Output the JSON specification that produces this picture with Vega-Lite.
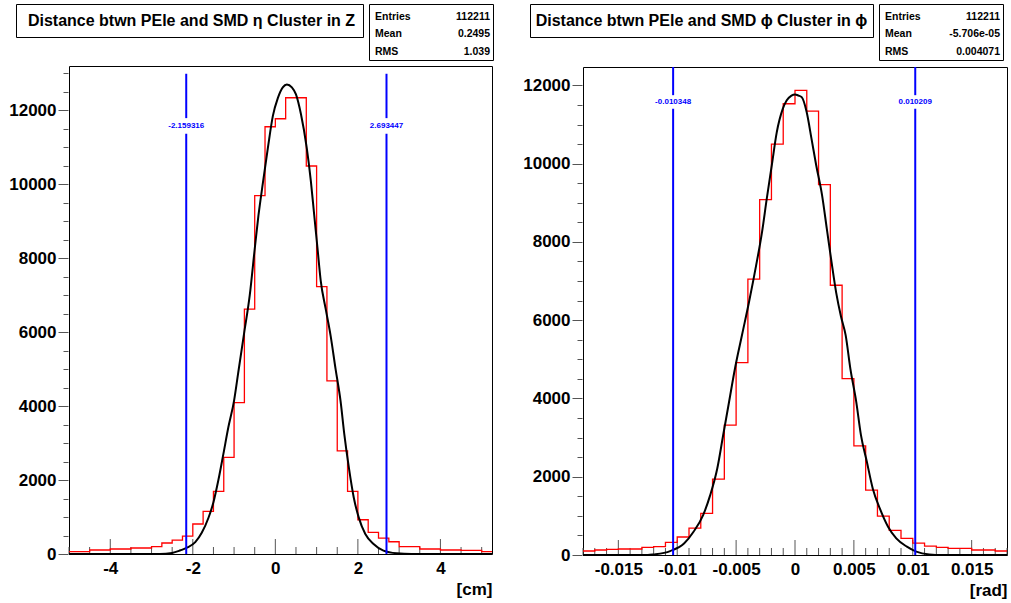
{
  "$schema": "https://vega.github.io/schema/vega-lite/v6.json",
  "background": "white",
  "padding": {"left": 7, "top": 3, "right": 0, "bottom": 0},
  "config": {
    "font": "Liberation Sans",
    "view": {"stroke": null},
    "axis": {
      "domain": false,
      "grid": false,
      "labelFont": "Liberation Sans",
      "labelFontSize": 17,
      "labelFontWeight": "bold",
      "labelColor": "black",
      "labelFlush": false,
      "labelBound": false,
      "tickColor": "#555555",
      "tickWidth": 1,
      "titleFont": "Liberation Sans",
      "titleFontSize": 17,
      "titleFontWeight": "bold",
      "titleColor": "black"
    }
  },
  "datasets": {
    "histL": [{"x":-5,"count":62},{"x":-4.75,"count":62},{"x":-4.5,"count":108},{"x":-4.25,"count":108},{"x":-4,"count":135},{"x":-3.75,"count":135},{"x":-3.5,"count":162},{"x":-3.25,"count":162},{"x":-3,"count":197},{"x":-2.75,"count":297},{"x":-2.5,"count":378},{"x":-2.25,"count":486},{"x":-2,"count":811},{"x":-1.75,"count":1151},{"x":-1.5,"count":1692},{"x":-1.25,"count":2611},{"x":-1,"count":4097},{"x":-0.75,"count":6622},{"x":-0.5,"count":9692},{"x":-0.25,"count":11557},{"x":0,"count":11773},{"x":0.25,"count":12341},{"x":0.5,"count":12341},{"x":0.75,"count":10495},{"x":1,"count":7232},{"x":1.25,"count":4684},{"x":1.5,"count":2792},{"x":1.75,"count":1692},{"x":2,"count":927},{"x":2.25,"count":584},{"x":2.5,"count":432},{"x":2.75,"count":332},{"x":3,"count":197},{"x":3.25,"count":197},{"x":3.5,"count":135},{"x":3.75,"count":135},{"x":4,"count":108},{"x":4.25,"count":108},{"x":4.5,"count":100},{"x":4.75,"count":100},{"x":5,"count":62},{"x":5.25,"count":62}],
    "fitL": [{"x":-5,"fit":0},{"x":-2.8,"fit":0},{"x":-2.5,"fit":30},{"x":-2.3,"fit":100},{"x":-2.14,"fit":170},{"x":-1.94,"fit":320},{"x":-1.78,"fit":580},{"x":-1.62,"fit":980},{"x":-1.5,"fit":1400},{"x":-1.38,"fit":2000},{"x":-1.26,"fit":2700},{"x":-1.14,"fit":3420},{"x":-1,"fit":4150},{"x":-0.9,"fit":4900},{"x":-0.76,"fit":5950},{"x":-0.62,"fit":7000},{"x":-0.5,"fit":8250},{"x":-0.41,"fit":9150},{"x":-0.3,"fit":10050},{"x":-0.18,"fit":10990},{"x":-0.06,"fit":11850},{"x":0.06,"fit":12330},{"x":0.18,"fit":12620},{"x":0.28,"fit":12700},{"x":0.4,"fit":12620},{"x":0.5,"fit":12430},{"x":0.62,"fit":11900},{"x":0.76,"fit":10990},{"x":0.86,"fit":10090},{"x":0.94,"fit":9190},{"x":1.02,"fit":8290},{"x":1.1,"fit":7390},{"x":1.22,"fit":6630},{"x":1.34,"fit":5900},{"x":1.46,"fit":5000},{"x":1.58,"fit":4140},{"x":1.67,"fit":3250},{"x":1.78,"fit":2350},{"x":1.9,"fit":1530},{"x":2.02,"fit":990},{"x":2.18,"fit":540},{"x":2.38,"fit":270},{"x":2.62,"fit":90},{"x":2.94,"fit":18},{"x":3.3,"fit":0},{"x":5.25,"fit":0}],
    "cutL": [{"x":-2.159316,"label":"-2.159316"},{"x":2.693447,"label":"2.693447"}],
    "ticksL": [{"t":-5,"kind":"minor"},{"t":-4.5,"kind":"minor"},{"t":-4,"kind":"major"},{"t":-3.5,"kind":"minor"},{"t":-3,"kind":"minor"},{"t":-2.5,"kind":"minor"},{"t":-2,"kind":"major"},{"t":-1.5,"kind":"minor"},{"t":-1,"kind":"minor"},{"t":-0.5,"kind":"minor"},{"t":0,"kind":"major"},{"t":0.5,"kind":"minor"},{"t":1,"kind":"minor"},{"t":1.5,"kind":"minor"},{"t":2,"kind":"major"},{"t":2.5,"kind":"minor"},{"t":3,"kind":"minor"},{"t":3.5,"kind":"minor"},{"t":4,"kind":"major"},{"t":4.5,"kind":"minor"},{"t":5,"kind":"minor"}],
    "histR": [{"x":-0.018,"count":102},{"x":-0.017,"count":128},{"x":-0.016,"count":145},{"x":-0.015,"count":153},{"x":-0.014,"count":153},{"x":-0.013,"count":194},{"x":-0.012,"count":212},{"x":-0.011,"count":322},{"x":-0.01,"count":460},{"x":-0.009,"count":689},{"x":-0.008,"count":1063},{"x":-0.007,"count":1940},{"x":-0.006,"count":3319},{"x":-0.005,"count":4918},{"x":-0.004,"count":7047},{"x":-0.003,"count":9080},{"x":-0.002,"count":10501},{"x":-0.001,"count":11531},{"x":0,"count":11872},{"x":0.001,"count":11344},{"x":0.002,"count":9463},{"x":0.003,"count":6893},{"x":0.004,"count":4509},{"x":0.005,"count":2791},{"x":0.006,"count":1659},{"x":0.007,"count":995},{"x":0.008,"count":629},{"x":0.009,"count":425},{"x":0.01,"count":306},{"x":0.011,"count":229},{"x":0.012,"count":194},{"x":0.013,"count":170},{"x":0.014,"count":170},{"x":0.015,"count":128},{"x":0.016,"count":128},{"x":0.017,"count":102},{"x":0.018,"count":102}],
    "fitR": [{"x":-0.018,"fit":0},{"x":-0.0125,"fit":0},{"x":-0.012,"fit":15},{"x":-0.0106,"fit":100},{"x":-0.0094,"fit":300},{"x":-0.0086,"fit":600},{"x":-0.0078,"fit":1020},{"x":-0.0072,"fit":1530},{"x":-0.0066,"fit":2210},{"x":-0.0061,"fit":3060},{"x":-0.0056,"fit":3910},{"x":-0.0051,"fit":4760},{"x":-0.0045,"fit":5620},{"x":-0.0039,"fit":6470},{"x":-0.0033,"fit":7400},{"x":-0.0028,"fit":8250},{"x":-0.0024,"fit":9100},{"x":-0.00197,"fit":9960},{"x":-0.00155,"fit":10800},{"x":-0.00104,"fit":11400},{"x":-0.0007,"fit":11620},{"x":-0.0003,"fit":11740},{"x":0,"fit":11770},{"x":0.0003,"fit":11740},{"x":0.00057,"fit":11700},{"x":0.00099,"fit":11320},{"x":0.0014,"fit":10640},{"x":0.0018,"fit":9960},{"x":0.0023,"fit":9190},{"x":0.0027,"fit":8340},{"x":0.0031,"fit":7490},{"x":0.0035,"fit":6700},{"x":0.0039,"fit":6100},{"x":0.0043,"fit":5617},{"x":0.0047,"fit":4764},{"x":0.0052,"fit":3914},{"x":0.0056,"fit":3064},{"x":0.0061,"fit":2382},{"x":0.0066,"fit":1702},{"x":0.0072,"fit":1191},{"x":0.0079,"fit":723},{"x":0.0086,"fit":425},{"x":0.0095,"fit":213},{"x":0.0103,"fit":85},{"x":0.0114,"fit":15},{"x":0.0125,"fit":0},{"x":0.018,"fit":0}],
    "cutR": [{"x":-0.010348,"label":"-0.010348"},{"x":0.010209,"label":"0.010209"}],
    "ticksR": [{"t":-0.018,"kind":"minor"},{"t":-0.017,"kind":"minor"},{"t":-0.016,"kind":"minor"},{"t":-0.015,"kind":"major"},{"t":-0.014,"kind":"minor"},{"t":-0.013,"kind":"minor"},{"t":-0.012,"kind":"minor"},{"t":-0.011,"kind":"minor"},{"t":-0.01,"kind":"major"},{"t":-0.009,"kind":"minor"},{"t":-0.008,"kind":"minor"},{"t":-0.007,"kind":"minor"},{"t":-0.006,"kind":"minor"},{"t":-0.005,"kind":"major"},{"t":-0.004,"kind":"minor"},{"t":-0.003,"kind":"minor"},{"t":-0.002,"kind":"minor"},{"t":-0.001,"kind":"minor"},{"t":0,"kind":"major"},{"t":0.001,"kind":"minor"},{"t":0.002,"kind":"minor"},{"t":0.003,"kind":"minor"},{"t":0.004,"kind":"minor"},{"t":0.005,"kind":"major"},{"t":0.006,"kind":"minor"},{"t":0.007,"kind":"minor"},{"t":0.008,"kind":"minor"},{"t":0.009,"kind":"minor"},{"t":0.01,"kind":"major"},{"t":0.011,"kind":"minor"},{"t":0.012,"kind":"minor"},{"t":0.013,"kind":"minor"},{"t":0.014,"kind":"minor"},{"t":0.015,"kind":"major"},{"t":0.016,"kind":"minor"},{"t":0.017,"kind":"minor"},{"t":0.018,"kind":"minor"}]
  },
  "spacing": 24,
  "hconcat": [
    {
      "spacing": 4,
      "vconcat": [
        {
          "spacing": 4,
          "hconcat": [
            {"width": 4, "height": 20, "data": {"values": [{}]}, "mark": {"type": "point", "opacity": 0, "size": 0, "strokeWidth": 0}, "encoding": {}},
            {
              "width": 347, "height": 33,
              "view": {"stroke": "black", "strokeWidth": 1, "fill": "white"},
              "data": {"values": [{"title": "Distance btwn PEle and SMD η Cluster in Z"}]},
              "mark": {"type": "text", "fontSize": 16, "fontWeight": "bold", "align": "center", "baseline": "middle", "dx": 2, "color": "black"},
              "encoding": {"text": {"field": "title"}}
            },
            {
              "width": 124, "height": 56,
              "view": {"stroke": "black", "strokeWidth": 1, "fill": "white"},
              "data": {"values": [{"stat": "Entries", "val": "112211"}, {"stat": "Mean", "val": "0.2495"}, {"stat": "RMS", "val": "1.039"}]},
              "layer": [
                {
                  "mark": {"type": "text", "align": "left", "baseline": "middle", "dx": 6, "dy": 2, "fontSize": 10.5, "fontWeight": "bold", "color": "black"},
                  "encoding": {
                    "x": {"datum": "left", "type": "nominal", "scale": {"type": "point", "domain": ["left", "right"], "padding": 0}, "axis": null},
                    "y": {"field": "stat", "type": "nominal", "sort": null, "scale": {"type": "point", "padding": 0.6}, "axis": null},
                    "text": {"field": "stat"}
                  }
                },
                {
                  "mark": {"type": "text", "align": "right", "baseline": "middle", "dx": -3, "dy": 2, "fontSize": 10.5, "fontWeight": "bold", "color": "black"},
                  "encoding": {
                    "x": {"datum": "right", "type": "nominal", "axis": null},
                    "y": {"field": "stat", "type": "nominal", "sort": null, "axis": null},
                    "text": {"field": "val"}
                  }
                }
              ]
            }
          ]
        },
        {
          "spacing": -6,
          "hconcat": [
            {
              "width": 61, "height": 488,
              "data": {"name": "histL"},
              "mark": {"type": "point", "opacity": 0, "size": 0, "strokeWidth": 0},
              "encoding": {
                "y": {"field": "count", "type": "quantitative",
                  "scale": {"domain": [0, 13200], "nice": false},
                  "axis": {
                    "offset": -61,
                    "values": [0,500,1000,1500,2000,2500,3000,3500,4000,4500,5000,5500,6000,6500,7000,7500,8000,8500,9000,9500,10000,10500,11000,11500,12000,12500,13000],
                    "tickSize": {"condition": {"test": "datum.value % 2000 === 0", "value": 10}, "value": 5},
                    "labelPadding": 2,
                    "labelExpr": "datum.value % 2000 === 0 ? datum.value + '' : ''",
                    "title": null
                  }
                }
              }
            },
            {
              "width": 423, "height": 488,
              "view": {"stroke": "black", "strokeWidth": 1},
              "layer": [
                {
                  "data": {"name": "ticksL"},
                  "transform": [{"filter": "datum.kind === 'major'"}],
                  "mark": {"type": "rule", "color": "#555555", "strokeWidth": 1},
                  "encoding": {
                    "x": {"field": "t", "type": "quantitative",
                      "scale": {"domain": [-5, 5.25], "nice": false, "zero": false},
                      "axis": {
                        "values": [-4, -2, 0, 2, 4],
                        "ticks": false,
                        "tickSize": 0,
                        "labelPadding": 6,
                        "labelExpr": "datum.value + ''",
                        "title": "[cm]", "titleAnchor": "end", "titleAlign": "right", "titlePadding": 5
                      }
                    },
                    "y": {"datum": 0, "type": "quantitative", "scale": {"domain": [0, 13200], "nice": false}, "axis": null},
                    "y2": {"datum": 405}
                  }
                },
                {
                  "data": {"name": "ticksL"},
                  "transform": [{"filter": "datum.kind === 'minor'"}],
                  "mark": {"type": "rule", "color": "#555555", "strokeWidth": 1},
                  "encoding": {
                    "x": {"field": "t", "type": "quantitative"},
                    "y": {"datum": 0, "type": "quantitative", "axis": null},
                    "y2": {"datum": 189}
                  }
                },
                {
                  "data": {"name": "histL"},
                  "mark": {"type": "line", "interpolate": "step-after", "color": "#ff0000", "strokeWidth": 1.3},
                  "encoding": {
                    "x": {"field": "x", "type": "quantitative"},
                    "y": {"field": "count", "type": "quantitative", "axis": null}
                  }
                },
                {
                  "data": {"name": "fitL"},
                  "mark": {"type": "line", "interpolate": "monotone", "color": "black", "strokeWidth": 2},
                  "encoding": {
                    "x": {"field": "x", "type": "quantitative"},
                    "y": {"field": "fit", "type": "quantitative", "axis": null}
                  }
                },
                {
                  "data": {"name": "cutL"},
                  "mark": {"type": "rule", "color": "#0000ff", "strokeWidth": 2},
                  "encoding": {
                    "x": {"field": "x", "type": "quantitative"},
                    "y": {"datum": 0, "axis": null},
                    "y2": {"datum": 11370}
                  }
                },
                {
                  "data": {"name": "cutL"},
                  "mark": {"type": "rule", "color": "#0000ff", "strokeWidth": 2},
                  "encoding": {
                    "x": {"field": "x", "type": "quantitative"},
                    "y": {"datum": 11790, "axis": null},
                    "y2": {"datum": 12990}
                  }
                },
                {
                  "data": {"name": "cutL"},
                  "mark": {"type": "text", "color": "#0000ff", "fontSize": 8, "fontWeight": "bold", "align": "center", "baseline": "middle"},
                  "encoding": {
                    "x": {"field": "x", "type": "quantitative"},
                    "y": {"datum": 11576, "axis": null},
                    "text": {"field": "label"}
                  }
                }
              ]
            }
          ]
        }
      ]
    },
    {
      "spacing": 4,
      "vconcat": [
        {
          "spacing": 4,
          "hconcat": [
            {"width": 4, "height": 20, "data": {"values": [{}]}, "mark": {"type": "point", "opacity": 0, "size": 0, "strokeWidth": 0}, "encoding": {}},
            {
              "width": 343, "height": 33,
              "view": {"stroke": "black", "strokeWidth": 1, "fill": "white"},
              "data": {"values": [{"title": "Distance btwn PEle and SMD ϕ Cluster in ϕ"}]},
              "mark": {"type": "text", "fontSize": 16, "fontWeight": "bold", "align": "center", "baseline": "middle", "color": "black"},
              "encoding": {"text": {"field": "title"}}
            },
            {
              "width": 124, "height": 56,
              "view": {"stroke": "black", "strokeWidth": 1, "fill": "white"},
              "data": {"values": [{"stat": "Entries", "val": "112211"}, {"stat": "Mean", "val": "-5.706e-05"}, {"stat": "RMS", "val": "0.004071"}]},
              "layer": [
                {
                  "mark": {"type": "text", "align": "left", "baseline": "middle", "dx": 6, "dy": 2, "fontSize": 10.5, "fontWeight": "bold", "color": "black"},
                  "encoding": {
                    "x": {"datum": "left", "type": "nominal", "scale": {"type": "point", "domain": ["left", "right"], "padding": 0}, "axis": null},
                    "y": {"field": "stat", "type": "nominal", "sort": null, "scale": {"type": "point", "padding": 0.6}, "axis": null},
                    "text": {"field": "stat"}
                  }
                },
                {
                  "mark": {"type": "text", "align": "right", "baseline": "middle", "dx": -3, "dy": 2, "fontSize": 10.5, "fontWeight": "bold", "color": "black"},
                  "encoding": {
                    "x": {"datum": "right", "type": "nominal", "axis": null},
                    "y": {"field": "stat", "type": "nominal", "sort": null, "axis": null},
                    "text": {"field": "val"}
                  }
                }
              ]
            }
          ]
        },
        {
          "spacing": -6,
          "hconcat": [
            {
              "width": 61, "height": 488,
              "data": {"name": "histR"},
              "mark": {"type": "point", "opacity": 0, "size": 0, "strokeWidth": 0},
              "encoding": {
                "y": {"field": "count", "type": "quantitative",
                  "scale": {"domain": [0, 12470], "nice": false},
                  "axis": {
                    "offset": -61,
                    "values": [0,500,1000,1500,2000,2500,3000,3500,4000,4500,5000,5500,6000,6500,7000,7500,8000,8500,9000,9500,10000,10500,11000,11500,12000],
                    "tickSize": {"condition": {"test": "datum.value % 2000 === 0", "value": 10}, "value": 5},
                    "labelPadding": 2,
                    "labelExpr": "datum.value % 2000 === 0 ? datum.value + '' : ''",
                    "title": null
                  }
                }
              }
            },
            {
              "width": 424, "height": 488,
              "view": {"stroke": "black", "strokeWidth": 1},
              "layer": [
                {
                  "data": {"name": "ticksR"},
                  "transform": [{"filter": "datum.kind === 'major'"}],
                  "mark": {"type": "rule", "color": "#555555", "strokeWidth": 1},
                  "encoding": {
                    "x": {"field": "t", "type": "quantitative",
                      "scale": {"domain": [-0.018, 0.018], "nice": false, "zero": false},
                      "axis": {
                        "values": [-0.015, -0.01, -0.005, 0, 0.005, 0.01, 0.015],
                        "ticks": false,
                        "tickSize": 0,
                        "labelPadding": 6,
                        "labelExpr": "datum.value + ''",
                        "title": "[rad]", "titleAnchor": "end", "titleAlign": "right", "titlePadding": 5
                      }
                    },
                    "y": {"datum": 0, "type": "quantitative", "scale": {"domain": [0, 12470], "nice": false}, "axis": null},
                    "y2": {"datum": 383}
                  }
                },
                {
                  "data": {"name": "ticksR"},
                  "transform": [{"filter": "datum.kind === 'minor'"}],
                  "mark": {"type": "rule", "color": "#555555", "strokeWidth": 1},
                  "encoding": {
                    "x": {"field": "t", "type": "quantitative"},
                    "y": {"datum": 0, "type": "quantitative", "axis": null},
                    "y2": {"datum": 179}
                  }
                },
                {
                  "data": {"name": "histR"},
                  "mark": {"type": "line", "interpolate": "step-after", "color": "#ff0000", "strokeWidth": 1.3},
                  "encoding": {
                    "x": {"field": "x", "type": "quantitative"},
                    "y": {"field": "count", "type": "quantitative", "axis": null}
                  }
                },
                {
                  "data": {"name": "fitR"},
                  "mark": {"type": "line", "interpolate": "monotone", "color": "black", "strokeWidth": 2},
                  "encoding": {
                    "x": {"field": "x", "type": "quantitative"},
                    "y": {"field": "fit", "type": "quantitative", "axis": null}
                  }
                },
                {
                  "data": {"name": "cutR"},
                  "mark": {"type": "rule", "color": "#0000ff", "strokeWidth": 2},
                  "encoding": {
                    "x": {"field": "x", "type": "quantitative"},
                    "y": {"datum": 0, "axis": null},
                    "y2": {"datum": 11400}
                  }
                },
                {
                  "data": {"name": "cutR"},
                  "mark": {"type": "rule", "color": "#0000ff", "strokeWidth": 2},
                  "encoding": {
                    "x": {"field": "x", "type": "quantitative"},
                    "y": {"datum": 11750, "axis": null},
                    "y2": {"datum": 12470}
                  }
                },
                {
                  "data": {"name": "cutR"},
                  "mark": {"type": "text", "color": "#0000ff", "fontSize": 8, "fontWeight": "bold", "align": "center", "baseline": "middle"},
                  "encoding": {
                    "x": {"field": "x", "type": "quantitative"},
                    "y": {"datum": 11576, "axis": null},
                    "text": {"field": "label"}
                  }
                }
              ]
            }
          ]
        }
      ]
    }
  ]
}
